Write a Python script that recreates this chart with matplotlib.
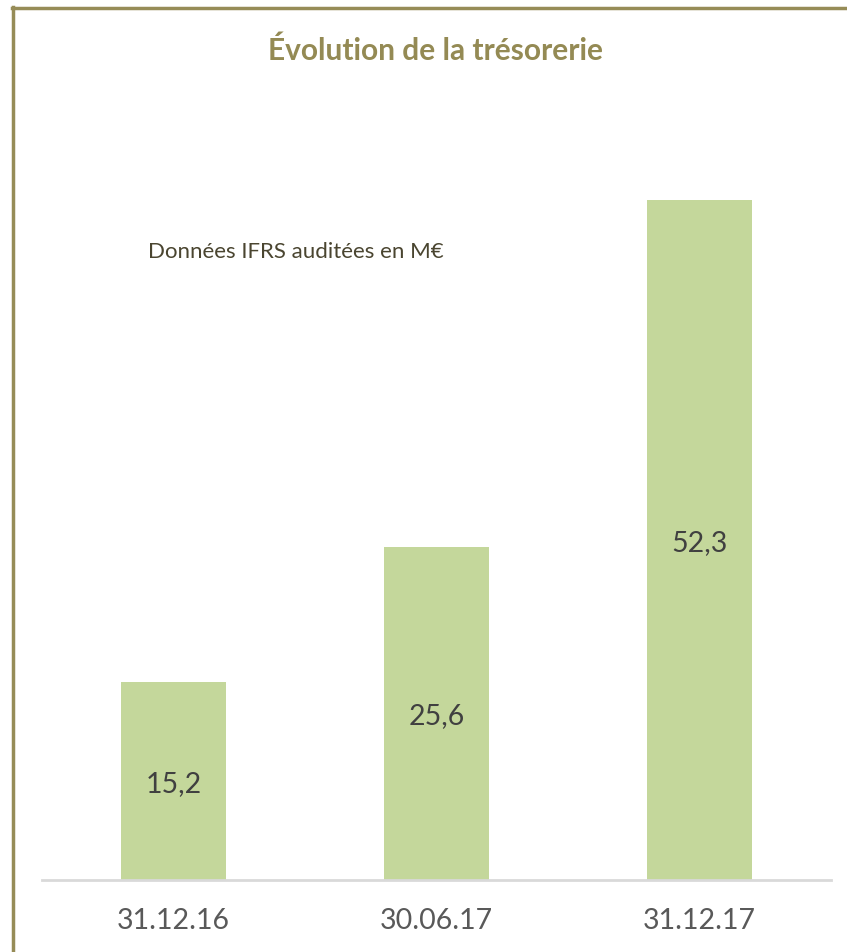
import matplotlib.pyplot as plt
from matplotlib.lines import Line2D

# data
dates = ['31.12.16', '30.06.17', '31.12.17']
tresorerie = [15.2, 25.6, 52.3]
labels = ['15,2', '25,6', '52,3']

plt.rcParams['font.family'] = ['Lato', 'DejaVu Sans']

W, H = 847, 952
fig = plt.figure(figsize=(W / 100, H / 100), dpi=100)
ax = fig.add_axes([42 / W, (H - 880) / H, (831 - 42) / W, (880 - 100) / H])

x = range(len(dates))
bars = ax.bar(x, tresorerie, width=0.4, color='#C4D79B')
for b, lab in zip(bars, labels):
    ax.annotate(lab, (b.get_x() + b.get_width() / 2, b.get_height() / 2),
                xytext=(0, -2), textcoords='offset points',
                ha='center', va='center', fontsize=20.5, color='#404040')

ax.set_xlim(-0.5, 2.5)
ax.set_ylim(0, 60)
ax.set_xticks(list(x))
ax.set_xticklabels(dates, fontsize=20.5, color='#595959')
ax.tick_params(axis='x', length=0, pad=20)
ax.set_yticks([])
for s in ['left', 'right', 'top']:
    ax.spines[s].set_visible(False)
ax.spines['bottom'].set_color('#D9D9D9')
ax.spines['bottom'].set_linewidth(2)

# frame lines (left and top)
olive = '#968C57'
fig.add_artist(Line2D([13 / W, 13 / W], [0, 1 - 7 / H], color=olive, lw=2.5,
                      transform=fig.transFigure))
fig.add_artist(Line2D([12 / W, 1], [1 - 7.5 / H, 1 - 7.5 / H], color=olive, lw=2.5,
                      transform=fig.transFigure))

fig.text(435 / W, 1 - 51 / H, 'Évolution de la trésorerie', ha='center', va='center',
         fontsize=21.5, fontweight='bold', color='#948A54')
fig.text(148 / W, 1 - 252 / H, 'Données IFRS auditées en M€', ha='left', va='center',
         fontsize=16, color='#4A4530')

fig.savefig('out.png', dpi=100)
